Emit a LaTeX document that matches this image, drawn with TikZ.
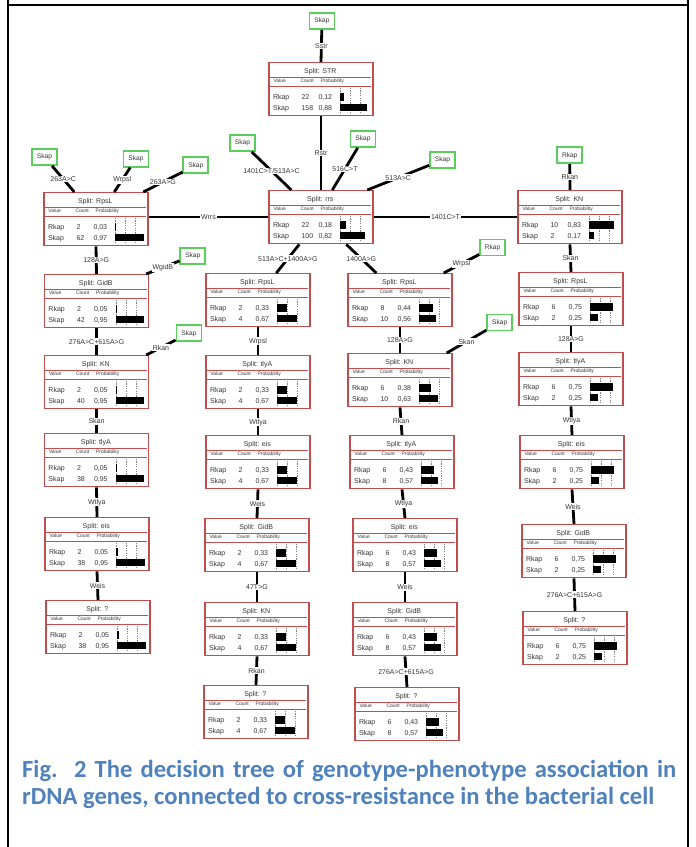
\documentclass[tikz,border=0pt]{standalone}
\usepackage{fontspec}
\setmainfont{Liberation Sans}
\newfontfamily\capfont{Carlito}
\usetikzlibrary{calc}
\definecolor{boxred}{RGB}{192,78,78}
\definecolor{leafgreen}{RGB}{90,205,90}
\definecolor{txt}{RGB}{55,55,55}
\definecolor{capblue}{RGB}{79,129,189}

\newcommand\splitnode[9]{%
  \node[splitbox] (#1) at (#2) {};
  \begin{scope}[shift={(#1.north west)}]
    \node[titletext] (#1-title) at (52,11.5) {Split: #3};
    \draw[inline] (1,15) -- (103,15);
    \draw[inline] (1,24) -- (103,24);
    \node[hdrtext] (#1-hv) at (5,20.6) {Value};
    \node[hdrtext] (#1-hc) at (32,20.6) {Count};
    \node[hdrtext] (#1-hp) at (52,20.6) {Probability};
    \node[rowtext] (#1-r1) at (4.5,37.6) {Rkap};
    \node[rowtext] (#1-c1) at (33,37.6) {#4};
    \node[rowtext] (#1-p1) at (50,37.6) {#5};
    \node[rowtext] (#1-r2) at (4.5,48.6) {Skap};
    \node[rowtext] (#1-c2) at (33,48.6) {#6};
    \node[rowtext] (#1-p2) at (50,48.6) {#7};
    \draw[gridl] (72,26) -- (72,52) (82,26) -- (82,52) (92,26) -- (92,52);
    \fill[black] (72,31) rectangle ++(30*#8,7.5);
    \fill[black] (72,41.5) rectangle ++(30*#9,7.5);
  \end{scope}
}

\begin{document}
\begin{tikzpicture}[x=1pt,y=-1pt,
  splitbox/.style={draw=boxred, line width=1.4pt, fill=white, minimum width=104pt, minimum height=53pt, inner sep=0pt, anchor=north},
  leaf/.style={draw=leafgreen, line width=1.7pt, fill=white, minimum width=25pt, minimum height=16pt, inner sep=0pt, font=\fontsize{6.6}{7}\selectfont, text=txt},
  conn/.style={line width=2.8pt, black},
  hconn/.style={line width=2.2pt, black},
  lbl/.style={fill=white, inner sep=0.8pt, font=\fontsize{7}{8}\selectfont, text=txt},
  titletext/.style={font=\fontsize{7}{8}\selectfont, text=txt, inner sep=0pt, anchor=base},
  hdrtext/.style={font=\fontsize{5}{6}\selectfont, text=txt, inner sep=0pt, anchor=base west},
  rowtext/.style={font=\fontsize{7}{8}\selectfont, text=txt, inner sep=0pt, anchor=base west},
  inline/.style={draw=boxred, line width=0.7pt},
  gridl/.style={draw=gray, line width=0.45pt, dash pattern=on 1.2pt off 1.2pt},
  captext/.style={font=\capfont\fontsize{24.6}{27}\selectfont\bfseries, text=capblue, inner sep=0pt, anchor=base west},
]
\useasboundingbox (0,0) rectangle (696,847);
% frame
\draw[line width=2pt] (8,0) -- (8,847);
\draw[line width=2pt] (688,0) -- (688,847);
\draw[line width=2pt] (8,5) -- (688,5);

% split boxes
\splitnode{STR}{321,62}{STR}{22}{0,12}{158}{0,88}{0.12}{0.88}
\splitnode{rrs}{321,190}{rrs}{22}{0,18}{100}{0,82}{0.18}{0.82}

\splitnode{LRpsL}{96,192}{RpsL}{2}{0,03}{62}{0,97}{0.03}{0.97}
\splitnode{LGidB}{96.5,274}{GidB}{2}{0,05}{42}{0,95}{0.05}{0.95}
\splitnode{LKN}{96.5,355}{KN}{2}{0,05}{40}{0,95}{0.05}{0.95}
\splitnode{LtlyA}{96.5,433}{tlyA}{2}{0,05}{38}{0,95}{0.05}{0.95}
\splitnode{Leis}{97,517}{eis}{2}{0,05}{38}{0,95}{0.05}{0.95}
\splitnode{Lq}{98,600}{?}{2}{0,05}{38}{0,95}{0.05}{0.95}

\splitnode{MLRpsL}{258,273}{RpsL}{2}{0,33}{4}{0,67}{0.33}{0.67}
\splitnode{MLtlyA}{258,355}{tlyA}{2}{0,33}{4}{0,67}{0.33}{0.67}
\splitnode{MLeis}{258,435}{eis}{2}{0,33}{4}{0,67}{0.33}{0.67}
\splitnode{MLGidB}{257,518}{GidB}{2}{0,33}{4}{0,67}{0.33}{0.67}
\splitnode{MLKN}{257,602}{KN}{2}{0,33}{4}{0,67}{0.33}{0.67}
\splitnode{MLq}{256,685}{?}{2}{0,33}{4}{0,67}{0.33}{0.67}

\splitnode{MRRpsL}{400,273}{RpsL}{8}{0,44}{10}{0,56}{0.44}{0.56}
\splitnode{MRKN}{400,353}{KN}{6}{0,38}{10}{0,63}{0.38}{0.63}
\splitnode{MRtlyA}{402,435}{tlyA}{6}{0,43}{8}{0,57}{0.43}{0.57}
\splitnode{MReis}{405,518}{eis}{6}{0,43}{8}{0,57}{0.43}{0.57}
\splitnode{MRGidB}{405,602}{GidB}{6}{0,43}{8}{0,57}{0.43}{0.57}
\splitnode{MRq}{407,687}{?}{6}{0,43}{8}{0,57}{0.43}{0.57}

\splitnode{RKN}{570,190}{KN}{10}{0,83}{2}{0,17}{0.83}{0.17}
\splitnode{RRpsL}{571,272}{RpsL}{6}{0,75}{2}{0,25}{0.75}{0.25}
\splitnode{RtlyA}{571,352}{tlyA}{6}{0,75}{2}{0,25}{0.75}{0.25}
\splitnode{Reis}{572,435}{eis}{6}{0,75}{2}{0,25}{0.75}{0.25}
\splitnode{RGidB}{574,524}{GidB}{6}{0,75}{2}{0,25}{0.75}{0.25}
\splitnode{Rq}{575,611}{?}{6}{0,75}{2}{0,25}{0.75}{0.25}

% leaves
\node[leaf] (lfTop) at (322,21) {Skap};
\node[leaf] (lfA) at (242.5,143) {Skap};
\node[leaf] (lfB) at (363,139) {Skap};
\node[leaf] (lfC) at (442.5,160) {Skap};
\node[leaf] (lfL1) at (44.5,157) {Skap};
\node[leaf] (lfL2) at (136,158.7) {Skap};
\node[leaf] (lfL3) at (195.8,165.3) {Skap};
\node[leaf] (lfLg) at (192.8,255.7) {Skap};
\node[leaf] (lfLk) at (189,333.3) {Skap};
\node[leaf] (lfMR1) at (492.5,247.5) {Rkap};
\node[leaf] (lfMR2) at (499.7,322.5) {Skap};
\node[leaf] (lfR1) at (569.7,155.3) {Rkap};

% attachment points
\coordinate (cA) at ($(rrs.north west)+(23,0)$);
\coordinate (cB) at ($(rrs.north west)+(64,0)$);
\coordinate (cC) at ($(rrs.north west)+(99,0)$);
\coordinate (cRb1) at ($(rrs.south west)+(31,0)$);
\coordinate (cRb2) at ($(rrs.south west)+(78,0)$);
\coordinate (cML) at ($(MLRpsL.north west)+(71,0)$);
\coordinate (cMR) at ($(MRRpsL.north west)+(29,0)$);
\coordinate (cL1) at ($(LRpsL.north west)+(31,0)$);
\coordinate (cL2) at ($(LRpsL.north west)+(71,0)$);
\coordinate (cL3) at ($(LRpsL.north west)+(100,0)$);
\coordinate (cLg) at ($(LGidB.north east)+(-3,0)$);
\coordinate (cLk) at ($(LKN.north east)+(-3,0)$);
\coordinate (cMR1) at ($(MRRpsL.north east)+(-9,0)$);
\coordinate (cMR2) at ($(MRKN.north east)+(-6,0)$);

% connectors
\draw[conn] (lfTop) -- (STR.north) node[lbl,midway] {Sstr};
\draw[conn] (STR.south) -- (rrs.north) node[lbl,midway] {Rstr};
\draw[conn] (lfA) -- (cA) node[lbl,midway] {1401C>T/513A>C};
\draw[conn] (lfB) -- (cB) node[lbl,midway] {516C>T};
\draw[conn] (lfC) -- (cC) node[lbl,midway] {513A>C};
\draw[hconn] (rrs.west) -- (rrs.west -| LRpsL.east) node[lbl,midway] {Wrrs};
\draw[hconn] (rrs.east) -- (rrs.east -| RKN.west) node[lbl,midway] {1401C>T};
\draw[conn] (cRb1) -- (cML) node[lbl,midway] {513A>C+1400A>G};
\draw[conn] (cRb2) -- (cMR) node[lbl,midway] {1400A>G};

\draw[conn] (lfL1) -- (cL1) node[lbl,midway] {263A>C};
\draw[conn] (lfL2) -- (cL2) node[lbl,midway] {Wrpsl};
\draw[conn] (lfL3) -- (cL3) node[lbl,midway] {263A>G};
\draw[conn] (lfLg) -- (cLg) node[lbl,midway] {WgidB};
\draw[conn] (lfLk) -- (cLk) node[lbl,midway] {Rkan};
\draw[conn] (LRpsL.south) -- (LGidB.north) node[lbl,midway] {128A>G};
\draw[conn] (LGidB.south) -- (LKN.north) node[lbl,midway] {276A>C+615A>G};
\draw[conn] (LKN.south) -- (LtlyA.north) node[lbl,midway] {Skan};
\draw[conn] (LtlyA.south) -- (Leis.north) node[lbl,midway] {Wtlya};
\draw[conn] (Leis.south) -- (Lq.north) node[lbl,midway] {Weis};

\draw[conn] (MLRpsL.south) -- (MLtlyA.north) node[lbl,midway] {Wrpsl};
\draw[conn] (MLtlyA.south) -- (MLeis.north) node[lbl,midway] {Wtlya};
\draw[conn] (MLeis.south) -- (MLGidB.north) node[lbl,midway] {Weis};
\draw[conn] (MLGidB.south) -- (MLKN.north) node[lbl,midway] {47T>G};
\draw[conn] (MLKN.south) -- (MLq.north) node[lbl,midway] {Rkan};

\draw[conn] (lfMR1) -- (cMR1) node[lbl,midway] {Wrpsl};
\draw[conn] (lfMR2) -- (cMR2) node[lbl,midway] {Skan};
\draw[conn] (MRRpsL.south) -- (MRKN.north) node[lbl,midway] {128A>G};
\draw[conn] (MRKN.south) -- (MRtlyA.north) node[lbl,midway] {Rkan};
\draw[conn] (MRtlyA.south) -- (MReis.north) node[lbl,midway] {Wtlya};
\draw[conn] (MReis.south) -- (MRGidB.north) node[lbl,midway] {Weis};
\draw[conn] (MRGidB.south) -- (MRq.north) node[lbl,midway] {276A>C+615A>G};

\draw[conn] (lfR1) -- (RKN.north) node[lbl,midway] {Rkan};
\draw[conn] (RKN.south) -- (RRpsL.north) node[lbl,midway] {Skan};
\draw[conn] (RRpsL.south) -- (RtlyA.north) node[lbl,midway] {128A>G};
\draw[conn] (RtlyA.south) -- (Reis.north) node[lbl,midway] {Wtlya};
\draw[conn] (Reis.south) -- (RGidB.north) node[lbl,midway] {Weis};
\draw[conn] (RGidB.south) -- (Rq.north) node[lbl,midway] {276A>C+615A>G};

% caption
\node[captext] (cap1) at (22,777) {\makebox[654pt][s]{Fig.\ \ 2 The decision tree of genotype-phenotype association in}};
\node[captext] (cap2) at (22,804) {rDNA genes, connected to cross-resistance in the bacterial cell};
\end{tikzpicture}
\end{document}
